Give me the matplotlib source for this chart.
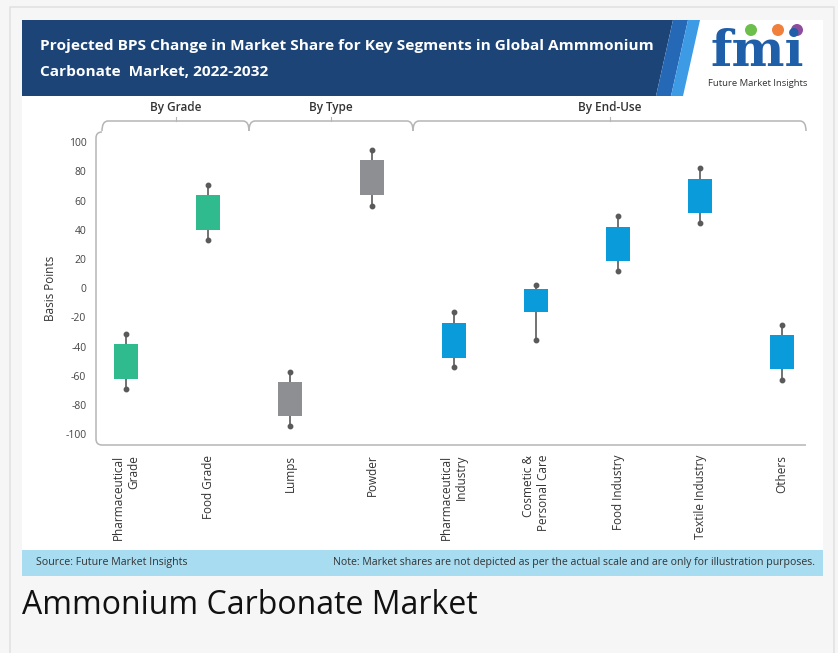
import matplotlib
matplotlib.use("Agg")
import matplotlib.pyplot as plt
from matplotlib.path import Path
from matplotlib.patches import PathPatch, Polygon, Rectangle, Circle
import numpy as np

# data (basis points)
categories = ['Pharmaceutical\nGrade', 'Food Grade', 'Lumps', 'Powder',
              'Pharmaceutical\nIndustry', 'Cosmetic &\nPersonal Care',
              'Food Industry', 'Textile Industry', 'Others']
box_high = [-38, 64, -64.5, 87.5, -23.5, -0.5, 42, 75, -32]
box_low = [-62, 40, -87.5, 64, -47.5, -16.5, 18.5, 51.5, -55.5]
whisker_high = [-31, 71, -57, 94.5, -16.5, 2, 49.5, 82.5, -25]
whisker_low = [-69, 33, -94.5, 56.5, -54, -35.5, 11.5, 44.5, -62.5]
groups = ['By Grade', 'By Type', 'By End-Use']
group_sizes = [2, 2, 5]
group_colors = ['#2fbb8d', '#8e8f93', '#0a9bdb']
yticks = [100, 80, 60, 40, 20, 0, -20, -40, -60, -80, -100]

W, H = 838, 653
fig = plt.figure(figsize=(W / 100, H / 100), dpi=100)
fig.patch.set_facecolor('#f6f6f6')

# overlay in pixel coordinates for the decorations
bg = fig.add_axes([0, 0, 1, 1], zorder=0)
bg.set_xlim(0, W)
bg.set_ylim(H, 0)
bg.axis('off')

# page border + white card
bg.plot([10, 10, 834, 834], [H, 7, 7, H], color='#e2e2e2', lw=1.2)
bg.add_patch(Rectangle((22, 20), 801, 556, facecolor='white', edgecolor='none'))

# header band with slanted edge
bg.add_patch(Polygon([(22, 20), (673, 20), (656, 96), (22, 96)], closed=True,
                     facecolor='#1c4477', edgecolor='none'))
bg.add_patch(Polygon([(673, 20), (688, 20), (671, 96), (656, 96)], closed=True,
                     facecolor='#2568b5', edgecolor='none'))
bg.add_patch(Polygon([(688, 20), (700, 20), (683, 96), (671, 96)], closed=True,
                     facecolor='#3d9be6', edgecolor='none'))
bg.text(40, 46, 'Projected BPS Change in Market Share for Key Segments in Global Ammmonium',
        color='white', fontsize=11.05, fontweight='bold', family='Open Sans', va='center')
bg.text(40, 72, 'Carbonate  Market, 2022-2032',
        color='white', fontsize=11.05, fontweight='bold', family='Open Sans', va='center')

# logo
bg.text(757, 52, 'fmi', color='#1f5ea8', fontsize=36, fontweight='bold',
        family='DejaVu Serif', ha='center', va='center')
for yy in np.arange(40, 70, 3.5):
    bg.plot([704, 812], [yy, yy], color='white', lw=0.6)
for cx, col in zip([751, 778, 797], ['#6dbf4b', '#f0803c', '#8d4c9e']):
    bg.add_patch(Circle((cx, 30), 6, facecolor=col, edgecolor='none'))
bg.text(758, 83, 'Future Market Insights', color='#333333', fontsize=6.8,
        family='Open Sans', ha='center', va='center')

# group brackets
def hbracket(x0, x1, y, mid):
    r = 6
    verts = [(x0, y + 10), (x0, y), (x0 + r, y), (x1 - r, y), (x1, y), (x1, y + 10)]
    codes = [Path.MOVETO, Path.CURVE3, Path.CURVE3, Path.LINETO, Path.CURVE3, Path.CURVE3]
    bg.add_patch(PathPatch(Path(verts, codes), facecolor='none', edgecolor='#b5b5b5', lw=1.1))
    bg.plot([mid, mid], [y, y - 4], color='#b5b5b5', lw=0.8)

x0_px, step_px = 126, 82
edges = [102]
pos = 0
for n in group_sizes:
    pos += n
    edges.append(x0_px + (pos - 0.5) * step_px if pos < len(categories) else 806)
for i, g in enumerate(groups):
    mid = (edges[i] + edges[i + 1]) / 2
    hbracket(edges[i], edges[i + 1], 121, mid)
    bg.text(mid, 107, g, color='#333333', fontsize=8.5, fontweight='semibold',
            family='Open Sans', ha='center', va='center')

# y axis bracket and x axis line
verts = [(102, 132), (96, 132), (96, 138), (96, 439), (96, 445), (102, 445), (806, 445)]
codes = [Path.MOVETO, Path.CURVE3, Path.CURVE3, Path.LINETO, Path.CURVE3, Path.CURVE3, Path.LINETO]
bg.add_patch(PathPatch(Path(verts, codes), facecolor='none', edgecolor='#b5b5b5', lw=1.1))

# source band
bg.add_patch(Rectangle((22, 550), 801, 26, facecolor='#a8dcf1', edgecolor='none'))
bg.text(36, 563, 'Source: Future Market Insights', color='#333333', fontsize=7.7,
        family='Open Sans', va='center')
bg.text(815, 563, 'Note: Market shares are not depicted as per the actual scale and are only for illustration purposes.',
        color='#333333', fontsize=7.6, family='Open Sans', va='center', ha='right')

# caption
bg.text(22, 614, 'Ammonium Carbonate Market', color='#111111', fontsize=23,
        family='Open Sans', va='baseline')

# main chart
ax = fig.add_axes([96 / W, 1 - 445 / H, (806 - 96) / W, (445 - 132) / H], zorder=1)
ax.patch.set_alpha(0)
x = np.arange(len(categories))
ax.set_xlim(-30 / step_px, (806 - x0_px) / step_px)
ax.set_ylim(-107.3, 107)

colors = []
for n, c in zip(group_sizes, group_colors):
    colors += [c] * n

ax.vlines(x, whisker_low, whisker_high, color='#5a5a5a', lw=1.2, zorder=2)
ax.plot(x, whisker_high, 'o', color='#5a5a5a', ms=3.2, zorder=2)
ax.plot(x, whisker_low, 'o', color='#5a5a5a', ms=3.2, zorder=2)
ax.bar(x, np.array(box_high) - np.array(box_low), bottom=box_low, width=0.3,
       color=colors, zorder=3)

for s in ax.spines.values():
    s.set_visible(False)
ax.set_yticks(yticks)
ax.set_yticklabels([str(t) for t in yticks], family='Open Sans', fontsize=7.5, color='#444444')
ax.set_xticks(x)
ax.set_xticklabels(categories, rotation=90, family='Open Sans', fontsize=8.5,
                   color='#333333', va='top', ha='center', multialignment='right')
ax.tick_params(axis='y', length=0, pad=7)
ax.tick_params(axis='x', length=0, pad=7)
ax.set_ylabel('Basis Points', family='Open Sans', fontsize=8.5, color='#333333', labelpad=6)

fig.savefig('out.png', dpi=100, facecolor=fig.get_facecolor())
